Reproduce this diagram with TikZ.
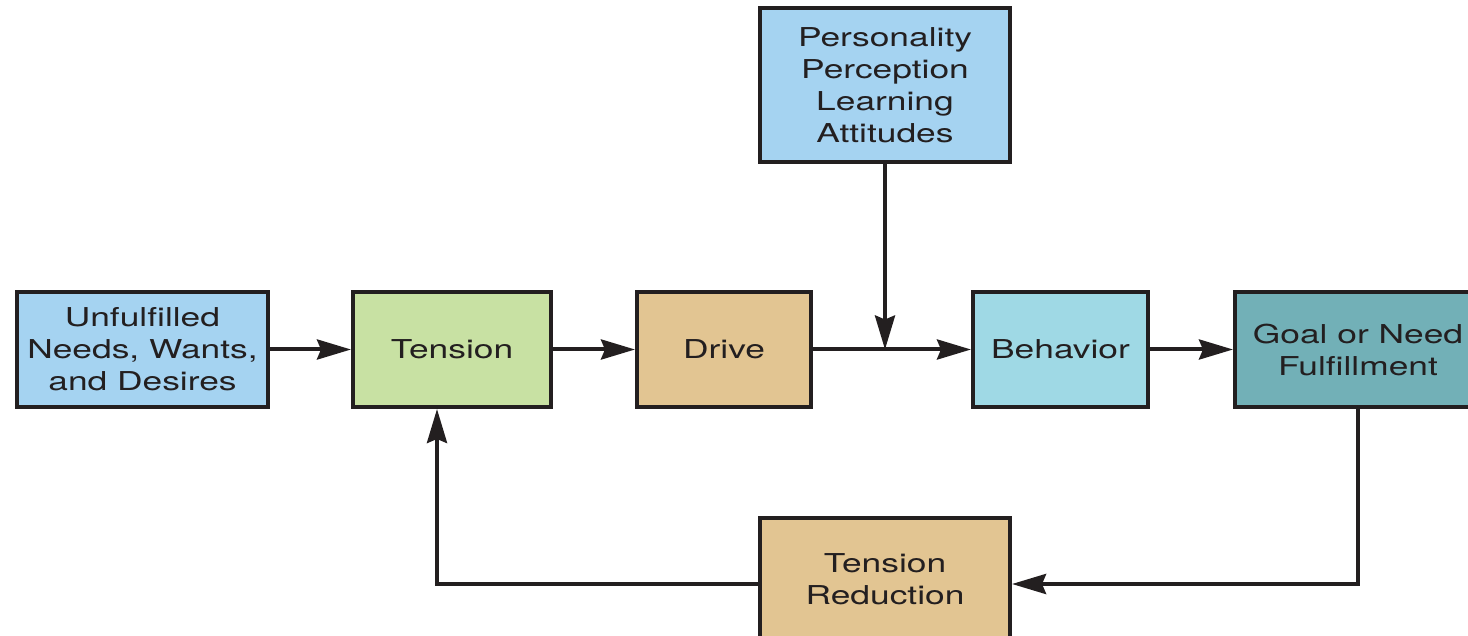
\documentclass[tikz,border=0pt]{standalone}
\usepackage{fontspec}
\setmainfont{TeX Gyre Heros}[FakeStretch=1.36]
\usetikzlibrary{arrows.meta,calc}

\definecolor{inkdark}{HTML}{231F20}
\definecolor{skyblue}{HTML}{A5D3F1}
\definecolor{palegreen}{HTML}{C8E1A3}
\definecolor{sand}{HTML}{E2C592}
\definecolor{aqua}{HTML}{9FD9E5}
\definecolor{teal}{HTML}{72B0B7}

\tikzset{
  stage/.style={draw=inkdark, line width=4pt, rectangle, align=center,
    inner sep=0pt, minimum height=115pt, text=inkdark,
    font=\fontsize{26}{32}\selectfont},
  flow/.style={draw=inkdark, line width=4pt,
    -{Stealth[length=34pt, width=20pt, inset=4pt]}},
}

\begin{document}
\begin{tikzpicture}[x=1pt, y=-1pt]
  \clip (0,0) rectangle (1468,636);

  % main chain of stages
  \node[stage, fill=skyblue,   minimum width=251pt] (need) at (142.5,349.5)
    {Unfulfilled\\Needs, Wants,\\and Desires};
  \node[stage, fill=palegreen, minimum width=198pt] (tens) at (452,349.5) {Tension};
  \node[stage, fill=sand,      minimum width=174pt] (drive) at (724,349.5) {Drive};
  \node[stage, fill=aqua,      minimum width=175pt] (behav) at (1060.5,349.5) {Behavior};
  \node[stage, fill=teal,      minimum width=246pt] (goal) at (1358,349.5)
    {Goal or Need\\Fulfillment};

  % influences and feedback
  \node[stage, fill=skyblue, minimum width=250pt, minimum height=154pt] (infl) at (885,85)
    {Personality\\Perception\\Learning\\Attitudes};
  \node[stage, fill=sand, minimum width=250pt, minimum height=132pt] (reduce) at (885,584)
    {Tension\\Reduction\\[-22pt]};

  \coordinate (up) at ($(tens.south)+(-15,0)$);

  \draw[flow] (need) -- (tens);
  \draw[flow] (tens) -- (drive);
  \draw[flow] (drive) -- (behav);
  \draw[flow] (behav) -- (goal);
  \draw[flow] (infl.south) -- (infl.south |- drive.east);
  \draw[flow] (goal.south) |- (reduce.east);
  \draw[flow] (reduce.west) -| (up);
\end{tikzpicture}
\end{document}
